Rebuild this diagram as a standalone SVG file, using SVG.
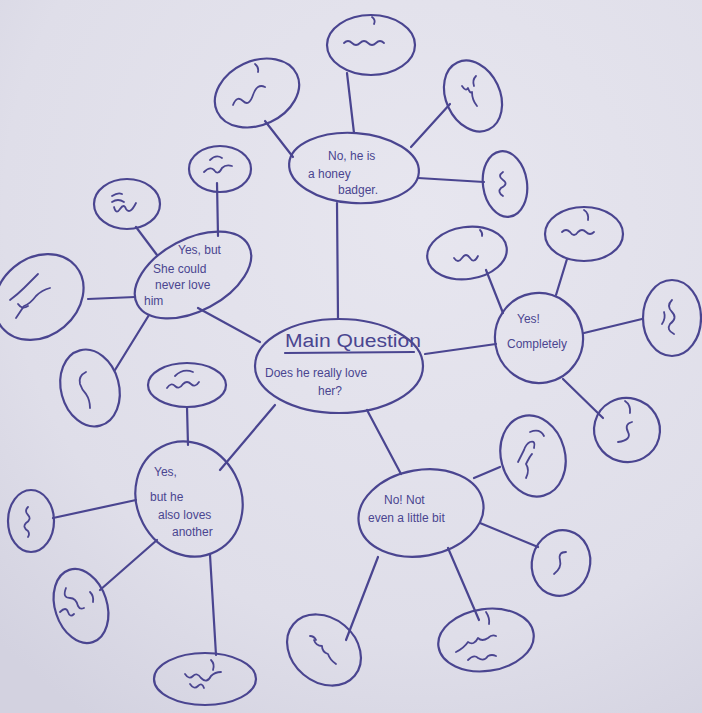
<svg xmlns="http://www.w3.org/2000/svg" width="702" height="713" viewBox="0 0 702 713">
<defs>
<radialGradient id="paper" cx="0.6" cy="0.3" r="0.85">
<stop offset="0" stop-color="#e7e6ef"/>
<stop offset="0.7" stop-color="#dfdee9"/>
<stop offset="1" stop-color="#d3d2e0"/>
</radialGradient>
<style>
.ink{fill:none;stroke:#4a4590;stroke-width:2.2;stroke-linecap:round;stroke-linejoin:round}
.sq{fill:none;stroke:#4a4590;stroke-width:1.8;stroke-linecap:round;stroke-linejoin:round}
.t{font-family:"Liberation Sans","DejaVu Sans",sans-serif;fill:#4a4590;font-size:12px}
.tm{font-family:"Liberation Sans","DejaVu Sans",sans-serif;fill:#4a4590;font-size:18px}
</style>
</defs>
<rect width="702" height="713" fill="url(#paper)"/>

<g id="connectors" class="ink">
<line x1="337" y1="203" x2="338" y2="318"/>
<line x1="198" y1="308" x2="260" y2="342"/>
<line x1="425" y1="354" x2="496" y2="344"/>
<line x1="220" y1="470" x2="275" y2="405"/>
<line x1="367" y1="410" x2="401" y2="474"/>
<line x1="347" y1="73" x2="354" y2="133"/>
<line x1="265" y1="121" x2="293" y2="157"/>
<line x1="450" y1="104" x2="411" y2="147"/>
<line x1="418" y1="178" x2="484" y2="182"/>
<line x1="217" y1="183" x2="218" y2="236"/>
<line x1="136" y1="227" x2="157" y2="255"/>
<line x1="88" y1="299" x2="135" y2="297"/>
<line x1="115" y1="370" x2="149" y2="315"/>
<line x1="486" y1="270" x2="503" y2="313"/>
<line x1="567" y1="259" x2="556" y2="295"/>
<line x1="584" y1="333" x2="642" y2="319"/>
<line x1="563" y1="379" x2="603" y2="418"/>
<line x1="187" y1="407" x2="188" y2="445"/>
<line x1="53" y1="518" x2="136" y2="500"/>
<line x1="100" y1="590" x2="157" y2="540"/>
<line x1="210" y1="555" x2="216" y2="655"/>
<line x1="474" y1="478" x2="500" y2="467"/>
<line x1="480" y1="523" x2="538" y2="547"/>
<line x1="378" y1="557" x2="346" y2="640"/>
<line x1="448" y1="548" x2="479" y2="620"/>
</g>

<g id="main">
<ellipse class="ink" cx="339" cy="366" rx="84" ry="47"/>
<text class="tm" x="285" y="347" textLength="136" lengthAdjust="spacingAndGlyphs">Main Question</text>
<line class="ink" x1="285" y1="353" x2="414" y2="352" stroke-width="2.6"/>
<text class="t" x="265" y="377" font-size="13">Does he really love</text>
<text class="t" x="318" y="395" font-size="13">her?</text>
</g>

<g id="honey-badger">
<ellipse class="ink" cx="354" cy="168" rx="65" ry="35" transform="rotate(4 354 168)"/>
<text class="t" x="328" y="160">No, he is</text>
<text class="t" x="308" y="178">a  honey</text>
<text class="t" x="338" y="194">badger.</text>
</g>
<g id="hb-1"><ellipse class="ink" cx="371" cy="45" rx="44" ry="30"/><path class="sq" d="M344 43 q4 -4 8 0 q4 4 8 0 q4 -4 8 0 q4 4 8 0 q4 -4 8 0"/><path class="sq" d="M372 17 q4 3 2 7"/></g>
<g id="hb-2"><ellipse class="ink" cx="257" cy="93" rx="44" ry="32" transform="rotate(-25 257 93)"/><path class="sq" d="M233 105 q4 -10 10 -4 q6 6 10 -6 q4 -12 12 -8"/><path class="sq" d="M255 64 q4 3 3 8"/></g>
<g id="hb-3"><ellipse class="ink" cx="473" cy="96" rx="27" ry="37" transform="rotate(-25 473 96)"/><path class="sq" d="M462 86 q4 6 6 2 q2 6 4 4 q0 8 5 14"/><path class="sq" d="M476 76 q-4 4 -2 10"/></g>
<g id="hb-4"><ellipse class="ink" cx="505" cy="184" rx="22" ry="33" transform="rotate(-8 505 184)"/><path class="sq" d="M503 172 q-6 4 0 8 q6 4 -2 8 q-4 4 2 8"/></g>

<g id="she-could-never">
<ellipse class="ink" cx="193" cy="275" rx="63" ry="36" transform="rotate(-28 193 275)"/>
<text class="t" x="178" y="254" font-size="11">Yes, but</text>
<text class="t" x="153" y="273" font-size="11">She could</text>
<text class="t" x="155" y="289" font-size="11">never love</text>
<text class="t" x="144" y="305" font-size="11">him</text>
</g>
<g id="sc-1"><ellipse class="ink" cx="220" cy="169" rx="31" ry="23"/><path class="sq" d="M204 172 q6 -6 10 -2 q4 6 8 -2 q4 -4 10 -2"/><path class="sq" d="M210 160 q6 -6 12 -2"/></g>
<g id="sc-2"><ellipse class="ink" cx="127" cy="204" rx="33" ry="25"/><path class="sq" d="M114 207 q2 8 6 2 q4 -6 6 0 q4 6 10 -6"/><path class="sq" d="M112 196 q6 -4 10 -2"/><path class="sq" d="M112 202 q6 -4 12 0"/></g>
<g id="sc-3"><ellipse class="ink" cx="39" cy="297" rx="48" ry="39" transform="rotate(-40 39 297)"/><path class="sq" d="M10 300 q8 -6 14 -12 q6 -6 14 -14"/><path class="sq" d="M16 318 q4 -6 8 -12 q6 -2 12 -10 q6 -6 14 -8"/><path class="sq" d="M18 304 q4 6 10 2"/></g>
<g id="sc-4"><ellipse class="ink" cx="90" cy="388" rx="29" ry="39" transform="rotate(-15 90 388)"/><path class="sq" d="M86 372 q-8 4 -6 12 q2 6 6 10 q4 6 4 14"/></g>

<g id="completely">
<ellipse class="ink" cx="539" cy="338" rx="44" ry="45" transform="rotate(-10 539 338)"/>
<text class="t" x="517" y="323" font-size="13">Yes!</text>
<text class="t" x="507" y="348" font-size="12">Completely</text>
</g>
<g id="co-1"><ellipse class="ink" cx="467" cy="253" rx="40" ry="26" transform="rotate(-8 467 253)"/><path class="sq" d="M454 258 q4 6 8 0 q4 -6 8 0 q4 6 8 -2"/><path class="sq" d="M480 230 q3 3 2 6"/></g>
<g id="co-2"><ellipse class="ink" cx="584" cy="234" rx="39" ry="27"/><path class="sq" d="M562 232 q4 -4 8 0 q4 6 8 0 q4 -4 8 0 q4 4 8 0"/><path class="sq" d="M584 210 q5 3 4 10"/></g>
<g id="co-3"><ellipse class="ink" cx="672" cy="318" rx="29" ry="38"/><path class="sq" d="M672 300 q-6 6 0 12 q6 6 -2 12 q-4 6 4 10"/><path class="sq" d="M664 312 q2 6 -2 12"/></g>
<g id="co-4"><ellipse class="ink" cx="627" cy="430" rx="33" ry="32" transform="rotate(15 627 430)"/><path class="sq" d="M632 422 q-8 2 -4 10 q4 8 -10 10"/><path class="sq" d="M625 401 q6 4 5 12"/></g>

<g id="also-loves-another">
<ellipse class="ink" cx="189" cy="499" rx="52" ry="59" transform="rotate(-28 189 499)"/>
<text class="t" x="154" y="476" font-size="13">Yes,</text>
<text class="t" x="150" y="501" font-size="12">but he</text>
<text class="t" x="158" y="519" font-size="12">also loves</text>
<text class="t" x="172" y="536" font-size="12">another</text>
</g>
<g id="al-1"><ellipse class="ink" cx="187" cy="385" rx="39" ry="22"/><path class="sq" d="M167 388 q4 -6 8 -2 q4 4 8 -2 q4 -4 8 0 q4 4 8 -2"/><path class="sq" d="M175 376 q8 -8 18 -4"/></g>
<g id="al-2"><ellipse class="ink" cx="31" cy="521" rx="23" ry="31"/><path class="sq" d="M28 507 q-4 4 0 8 q4 4 -2 8 q-4 4 2 8 q2 3 0 6"/></g>
<g id="al-3"><ellipse class="ink" cx="81" cy="606" rx="26" ry="38" transform="rotate(-18 81 606)"/><path class="sq" d="M66 588 q-4 10 4 10 q6 0 8 8 q2 4 6 2"/><path class="sq" d="M60 612 q6 -6 8 0 q2 6 6 2"/><path class="sq" d="M90 592 q4 4 3 10"/></g>
<g id="al-4"><ellipse class="ink" cx="205" cy="679" rx="51" ry="26"/><path class="sq" d="M185 674 q4 6 8 2 q4 -4 8 2 q6 6 10 -2 q4 -4 10 -4"/><path class="sq" d="M190 684 q4 6 8 2 q4 -4 6 2"/><path class="sq" d="M211 660 q4 4 2 10"/></g>

<g id="not-a-little-bit">
<ellipse class="ink" cx="421" cy="513" rx="63" ry="43" transform="rotate(-10 421 513)"/>
<text class="t" x="384" y="504" font-size="13">No! Not</text>
<text class="t" x="368" y="522" font-size="12">even a little bit</text>
</g>
<g id="nl-1"><ellipse class="ink" cx="533" cy="456" rx="32" ry="41" transform="rotate(-15 533 456)"/><path class="sq" d="M518 462 q4 -8 6 -12 q2 -6 6 -8 q6 -2 4 6"/><path class="sq" d="M526 478 q4 -8 0 -14 q4 -8 6 -10"/><path class="sq" d="M530 432 q10 -4 14 4"/></g>
<g id="nl-2"><ellipse class="ink" cx="561" cy="563" rx="29" ry="33" transform="rotate(15 561 563)"/><path class="sq" d="M566 552 q-8 0 -6 8 q2 8 -6 14"/></g>
<g id="nl-3"><ellipse class="ink" cx="324" cy="650" rx="40" ry="32" transform="rotate(40 324 650)"/><path class="sq" d="M314 640 q2 6 8 6 q0 6 6 8 q2 6 8 10"/><path class="sq" d="M310 636 q4 0 6 4"/></g>
<g id="nl-4"><ellipse class="ink" cx="486" cy="640" rx="48" ry="31" transform="rotate(-8 486 640)"/><path class="sq" d="M456 652 q8 -4 12 -10 q6 4 10 -4 q4 4 10 0 q4 -4 8 -2"/><path class="sq" d="M468 660 q6 -6 10 -2 q6 4 10 -2 q4 -2 8 0"/><path class="sq" d="M486 612 q4 6 3 12"/></g>
</svg>
